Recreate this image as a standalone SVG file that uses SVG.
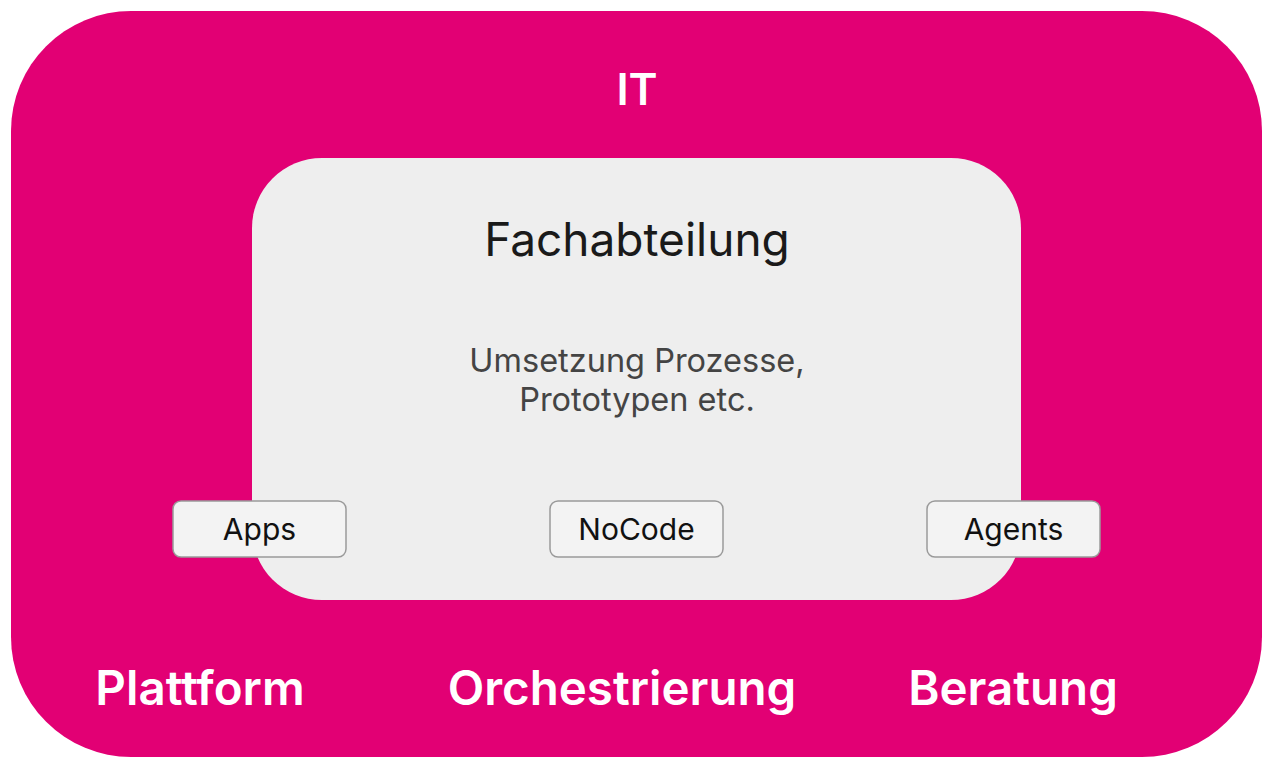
<svg xmlns="http://www.w3.org/2000/svg" width="1276" height="772" viewBox="0 0 1276 772">
<style>
.w{fill:#ffffff;font-family:Inter,"Open Sans",sans-serif;font-weight:600;text-anchor:middle}
.box{fill:#f3f3f3;stroke:#9a9a9a;stroke-width:1.5}
.bl{fill:#111111;font-family:Inter,"Open Sans",sans-serif;font-size:30px;text-anchor:middle}
</style>
<g id="it">
<rect x="11" y="11" width="1251" height="746" rx="120" ry="120" fill="#e20074"/>
<text class="w" x="637" y="105" font-size="44">IT</text>
</g>
<g id="fachabteilung">
<rect x="252" y="158" width="769" height="442" rx="70" ry="70" fill="#eeeeee"/>
<text x="637" y="256" font-family="Inter,'Open Sans',sans-serif" font-size="46" fill="#1a1a1a" text-anchor="middle">Fachabteilung</text>
<text x="637" y="372" font-family="Inter,'Open Sans',sans-serif" font-size="32.5" fill="#444444" text-anchor="middle">Umsetzung Prozesse,</text>
<text x="637" y="411" font-family="Inter,'Open Sans',sans-serif" font-size="32.5" fill="#444444" text-anchor="middle">Prototypen etc.</text>
</g>
<g id="apps">
<rect class="box" x="173" y="501" width="173" height="56" rx="8"/>
<text class="bl" x="259.5" y="540">Apps</text>
</g>
<g id="nocode">
<rect class="box" x="550" y="501" width="173" height="56" rx="8"/>
<text class="bl" x="636.5" y="540">NoCode</text>
</g>
<g id="agents">
<rect class="box" x="927" y="501" width="173" height="56" rx="8"/>
<text class="bl" x="1013.5" y="540">Agents</text>
</g>
<g id="plattform"><text class="w" x="200" y="705" font-size="47.5">Plattform</text></g>
<g id="orchestrierung"><text class="w" x="622" y="705" font-size="47.5">Orchestrierung</text></g>
<g id="beratung"><text class="w" x="1013" y="705" font-size="47.5">Beratung</text></g>
<g id="connectors"></g>
</svg>
